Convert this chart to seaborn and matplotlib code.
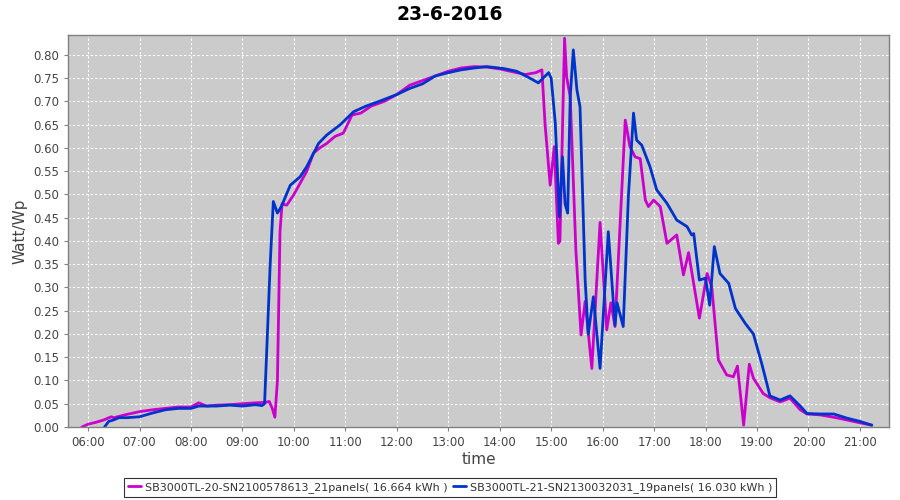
import matplotlib
matplotlib.use("Agg")
import matplotlib.pyplot as plt
import matplotlib.dates as mdates
import seaborn as sns
import pandas as pd

title = "23-6-2016"
name_a = "SB3000TL-20-SN2100578613_21panels( 16.664 kWh )"
name_b = "SB3000TL-21-SN2130032031_19panels( 16.030 kWh )"

hours_a = [5.88, 6.00, 6.15, 6.30, 6.45, 6.50, 6.75, 7.00, 7.25, 7.50, 7.75, 8.00, 8.15, 8.30, 8.50,
           8.75, 9.00, 9.25, 9.45, 9.52, 9.58, 9.63, 9.68, 9.73, 9.77, 9.86, 10.00, 10.12, 10.25,
           10.38, 10.50, 10.64, 10.80, 10.96, 11.13, 11.30, 11.50, 11.75, 12.00, 12.25, 12.50, 12.75,
           13.00, 13.25, 13.50, 13.75, 14.00, 14.25, 14.50, 14.70, 14.82, 14.88, 14.98, 15.06, 15.14,
           15.17, 15.26, 15.30, 15.37, 15.48, 15.58, 15.66, 15.79, 15.95, 16.08, 16.16, 16.24, 16.44,
           16.53, 16.63, 16.73, 16.83, 16.89, 16.99, 17.12, 17.25, 17.44, 17.57, 17.67, 17.88, 18.03,
           18.12, 18.25, 18.41, 18.54, 18.62, 18.74, 18.85, 18.93, 19.12, 19.25, 19.45, 19.64, 19.84,
           19.97, 20.23, 20.49, 20.75, 21.00, 21.23]
values_a = [0.0, 0.006, 0.010, 0.015, 0.022, 0.020, 0.027, 0.033, 0.037, 0.040, 0.043, 0.043, 0.052,
            0.045, 0.047, 0.048, 0.050, 0.052, 0.053, 0.055, 0.040, 0.021, 0.10, 0.42, 0.48, 0.477,
            0.50, 0.524, 0.55, 0.589, 0.60, 0.61, 0.625, 0.632, 0.671, 0.675, 0.69, 0.70, 0.715, 0.735,
            0.745, 0.755, 0.765, 0.772, 0.775, 0.774, 0.77, 0.764, 0.758, 0.762, 0.768, 0.653, 0.52,
            0.603, 0.395, 0.40, 0.836, 0.753, 0.71, 0.38, 0.198, 0.27, 0.126, 0.44, 0.209, 0.267, 0.216,
            0.66, 0.603, 0.581, 0.577, 0.488, 0.474, 0.488, 0.474, 0.395, 0.413, 0.327, 0.375, 0.234,
            0.33, 0.302, 0.144, 0.112, 0.108, 0.131, 0.004, 0.135, 0.105, 0.072, 0.063, 0.054, 0.062,
            0.037, 0.028, 0.026, 0.021, 0.015, 0.009, 0.004]

hours_b = [6.32, 6.40, 6.49, 6.60, 6.75, 7.00, 7.25, 7.50, 7.75, 8.00, 8.15, 8.50, 8.75, 9.00, 9.25,
           9.38, 9.43, 9.47, 9.54, 9.60, 9.68, 9.76, 9.93, 10.12, 10.25, 10.48, 10.64, 10.90, 11.16,
           11.40, 11.65, 12.00, 12.25, 12.50, 12.75, 13.00, 13.25, 13.50, 13.75, 14.07, 14.33, 14.59,
           14.75, 14.95, 15.00, 15.08, 15.16, 15.22, 15.27, 15.32, 15.37, 15.43, 15.50, 15.56, 15.66,
           15.72, 15.82, 15.95, 16.11, 16.24, 16.28, 16.40, 16.50, 16.60, 16.66, 16.76, 16.92, 17.05,
           17.25, 17.44, 17.64, 17.73, 17.77, 17.88, 18.00, 18.08, 18.17, 18.28, 18.45, 18.58, 18.77,
           18.93, 19.09, 19.19, 19.25, 19.45, 19.64, 19.84, 19.97, 20.23, 20.49, 20.75, 21.00, 21.23]
values_b = [0.0, 0.012, 0.015, 0.020, 0.020, 0.022, 0.030, 0.037, 0.040, 0.040, 0.045, 0.045, 0.047,
            0.045, 0.048, 0.046, 0.05, 0.159, 0.352, 0.485, 0.46, 0.475, 0.52, 0.538, 0.56, 0.61, 0.628,
            0.65, 0.678, 0.69, 0.70, 0.715, 0.728, 0.738, 0.755, 0.762, 0.768, 0.772, 0.775, 0.771,
            0.765, 0.75, 0.74, 0.762, 0.75, 0.653, 0.452, 0.581, 0.48, 0.46, 0.71, 0.811, 0.725, 0.689,
            0.316, 0.20, 0.28, 0.126, 0.42, 0.219, 0.267, 0.216, 0.495, 0.675, 0.617, 0.606, 0.56, 0.51,
            0.481, 0.445, 0.431, 0.413, 0.416, 0.316, 0.32, 0.262, 0.388, 0.33, 0.309, 0.255, 0.223,
            0.20, 0.137, 0.094, 0.067, 0.058, 0.067, 0.045, 0.029, 0.028, 0.028, 0.019, 0.012, 0.004]

day = pd.Timestamp("2016-06-23")
df = pd.concat([
    pd.DataFrame({"time": day + pd.to_timedelta(hours_a, unit="h"), "value": values_a, "series": name_a}),
    pd.DataFrame({"time": day + pd.to_timedelta(hours_b, unit="h"), "value": values_b, "series": name_b}),
])

sns.set_theme(style="white")
plt.rcParams["font.family"] = ["DejaVu Sans"]

fig = plt.figure(figsize=(9, 5), dpi=100)
ax = fig.add_axes([68 / 900, 1 - 427 / 500, (889 - 68) / 900, (427 - 35) / 500])
ax.set_facecolor("#cbcbcb")

sns.lineplot(data=df, x="time", y="value", hue="series",
             palette={name_a: "#cc00cc", name_b: "#0033cc"},
             linewidth=2.0, ax=ax, legend=True, sort=False)

ax.set_xlim(day + pd.Timedelta(hours=5.61), day + pd.Timedelta(hours=21.565))
ax.set_ylim(0, 0.843)
ax.xaxis.set_major_locator(mdates.HourLocator(interval=1))
ax.xaxis.set_major_formatter(mdates.DateFormatter("%H:%M"))
ax.set_yticks([i * 0.05 for i in range(17)])
ax.set_yticklabels([f"{i * 0.05:.2f}" for i in range(17)])

ax.grid(True, color="white", linestyle=(0, (2, 2)), linewidth=0.8)
ax.set_axisbelow(True)
for s in ax.spines.values():
    s.set_color("#808080")
    s.set_linewidth(1.0)
ax.tick_params(axis="both", which="major", length=3, width=0.8, color="#808080",
               labelsize=8.5, labelcolor="#444444", direction="out", bottom=True, left=True)

ax.set_xlabel("time", fontsize=11, color="#444444", labelpad=2)
ax.set_ylabel("Watt/Wp", fontsize=11, color="#444444", labelpad=4)
fig.suptitle(title, fontsize=13.5, fontweight="bold", y=0.99, color="black")

handles, labels = ax.get_legend_handles_labels()
ax.get_legend().remove()
leg = fig.legend(handles, labels, loc="lower center", bbox_to_anchor=(0.5, 0.0), ncol=2,
                 frameon=True, fancybox=False, edgecolor="black", fontsize=8.0,
                 handlelength=1.2, handletextpad=0.3, columnspacing=0.5, borderpad=0.35,
                 borderaxespad=0.3)
leg.get_frame().set_linewidth(0.8)
for t in leg.get_texts():
    t.set_color("#333333")

fig.savefig("out.png", dpi=100)
